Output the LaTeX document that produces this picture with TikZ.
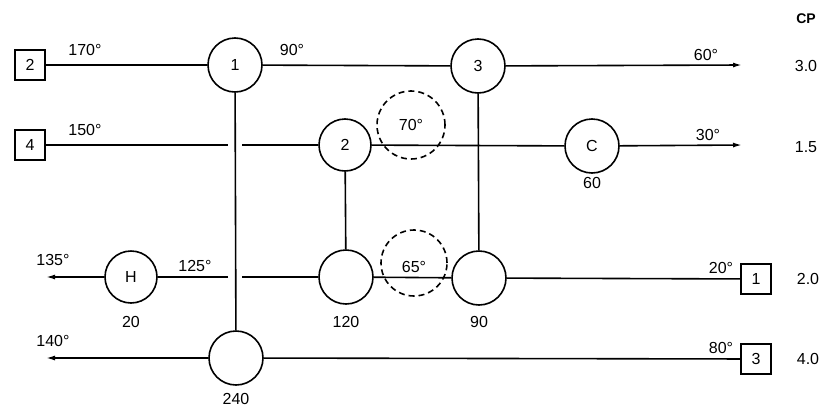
\documentclass[tikz,border=0pt]{standalone}
\usepackage{fontspec}
\setmainfont{Liberation Sans}
\usetikzlibrary{arrows.meta}
\begin{document}
\begin{tikzpicture}[x=1pt,y=-1pt,
  line width=1.6pt,
  every node/.style={font=\fontsize{16}{19}\selectfont},
  unit/.style={circle,draw,minimum size=54pt,inner sep=0pt},
  split/.style={circle,draw,dashed,dash pattern=on 6pt off 4pt,minimum size=68pt,inner sep=0pt},
  src/.style={rectangle,draw,minimum size=30pt,inner sep=0pt},
  flow/.style={-{Latex[length=9pt,width=5pt]}},
  lbl/.style={inner sep=1pt}]
\useasboundingbox (0,0) rectangle (827,407);

% stream sources
\node[src] (b2) at (30,65) {2};
\node[src] (b4) at (30,145) {4};
\node[src] (b1) at (756,279) {1};
\node[src] (b3) at (756,359) {3};

% exchangers, heater and cooler
\node[unit] (c1) at (235,65) {1};
\node[unit] (c3) at (478,66) {3};
\node[unit,minimum size=52pt] (c2) at (345,145) {2};
\node[unit] (cC) at (592,146) {C};
\node[unit,minimum size=52pt] (cH) at (131,277) {H};
\node[unit] (c120) at (346,277) {};
\node[unit] (c90) at (479,278) {};
\node[unit] (c240) at (236,358) {};

% free ends and crossing gaps
\coordinate (e1) at (742,65);
\coordinate (e2) at (742,145);
\coordinate (e3) at (46,277);
\coordinate (e4) at (46,358);
\coordinate (g2a) at (228,145);
\coordinate (g2b) at (242,145);
\coordinate (g3a) at (228,277);
\coordinate (g3b) at (242,277);

% hot streams
\draw (b2) -- (c1);
\draw[flow] (c1) -- (c3) -- (e1);
\draw (b4) -- (g2a);
\draw (g2b) -- (c2);
\draw[flow] (c2) -- (cC) -- (e2);

% cold streams
\draw (b1) -- (c90) -- (c120);
\draw (c120) -- (g3b);
\draw (g3a) -- (cH);
\draw[flow] (cH) -- (e3);
\draw (b3) -- (c240);
\draw[flow] (c240) -- (e4);

% exchanger matches
\draw (c1) -- (c240);
\draw (c2) -- (c120);
\draw (c3) -- (c90);

% stream split temperatures
\node[split] (d70) at (411,125) {70°};
\node[split,minimum size=66pt] (d65) at (414,263) {};
\node[lbl] (t65) at (414,267) {65°};

% temperatures
\node[lbl] (t170) at (85,50) {170°};
\node[lbl] (t90) at (292,50) {90°};
\node[lbl] (t60) at (706,55) {60°};
\node[lbl] (t150) at (85,130) {150°};
\node[lbl] (t30) at (708,135) {30°};
\node[lbl] (t135) at (53,260) {135°};
\node[lbl] (t125) at (195,266) {125°};
\node[lbl] (t20) at (721,268) {20°};
\node[lbl] (t140) at (53,341) {140°};
\node[lbl] (t80) at (721,348) {80°};

% duties
\node[lbl] (q60) at (592,183) {60};
\node[lbl] (q20) at (131,322) {20};
\node[lbl] (q120) at (346,322) {120};
\node[lbl] (q90) at (479,322) {90};
\node[lbl] (q240) at (236,399) {240};

% heat capacity flow rates
\node[lbl,font=\fontsize{14}{16}\selectfont\bfseries] (cp) at (806,19) {CP};
\node[lbl] (cp1) at (806,66) {3.0};
\node[lbl] (cp2) at (806,147) {1.5};
\node[lbl] (cp3) at (808,279) {2.0};
\node[lbl] (cp4) at (808,359) {4.0};
\end{tikzpicture}
\end{document}
